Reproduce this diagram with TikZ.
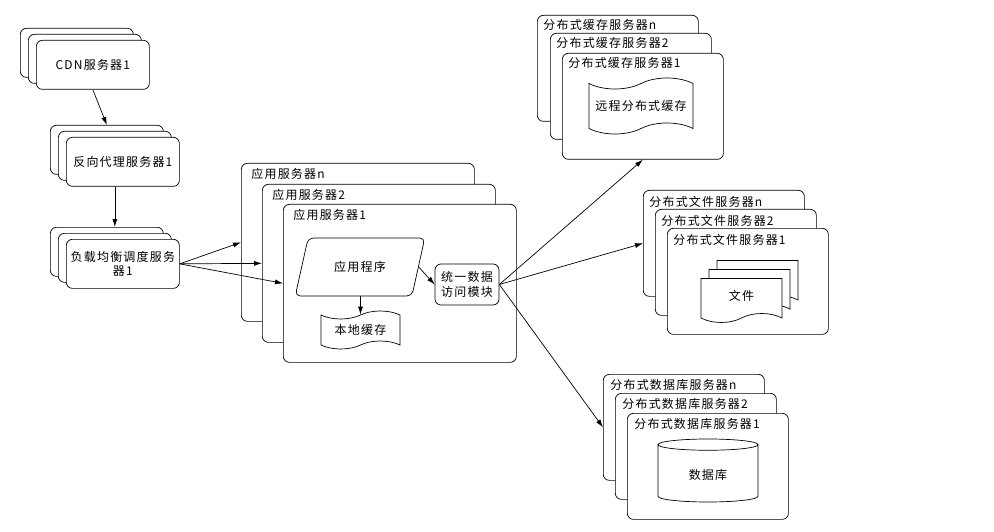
\documentclass[tikz,border=0pt]{standalone}
\usepackage{fontspec}
\setmainfont[LetterSpace=10]{Noto Sans CJK SC}
\usetikzlibrary{arrows.meta,shapes.geometric,shapes.symbols}

\begin{document}
\begin{tikzpicture}[
      x=1pt, y=-1pt, line width=0.7pt,
      font=\fontsize{12}{14.5}\selectfont,
      srv/.style={draw, rounded corners=6pt, fill=white, anchor=north west, inner sep=0pt},
      small/.style={srv, minimum width=113pt, minimum height=49pt, align=center},
      big/.style={srv, minimum width=161pt, minimum height=106pt},
      appbox/.style={srv, minimum width=233pt, minimum height=158pt},
      lbl/.style={anchor=west, inner sep=0pt},
      doc/.style={draw, fill=white, tape, tape bend top=none, tape bend height=9pt,
                  minimum width=81pt, minimum height=44pt},
      arr/.style={-{Latex[length=8pt, width=5pt]}},
    ]
    \useasboundingbox (0,0) rectangle (994,532);

    % front tier: CDN, reverse proxy, load balancer
    \node[small] (cdn3) at (20,28) {};
    \node[small] (cdn2) at (28,34) {};
    \node[small] (cdn1) at (36,40) {CDN服务器1};
    \node[small] (prx3) at (50,125) {};
    \node[small] (prx2) at (58,131) {};
    \node[small] (prx1) at (66,137) {反向代理服务器1};
    \node[small] (lb3) at (50,227) {};
    \node[small] (lb2) at (58,233) {};
    \node[small] (lb1) at (66,239) {负载均衡调度服务\\器1};

    % application servers
    \node[appbox] (appn) at (241,163) {};
    \node[lbl] (appnl) at ([shift={(10,11)}]appn.north west) {应用服务器n};
    \node[appbox] (app2) at (262,184) {};
    \node[lbl] (app2l) at ([shift={(10,11)}]app2.north west) {应用服务器2};
    \node[appbox] (app1) at (283,204) {};
    \node[lbl] (app1l) at ([shift={(10,11)}]app1.north west) {应用服务器1};
    \node[draw, trapezium, trapezium left angle=68, trapezium right angle=112,
          trapezium stretches=true, rounded corners=5pt,
          minimum width=130pt, minimum height=58pt] (prog) at (360,267) {应用程序};
    \node[draw, tape, tape bend height=8pt, minimum width=79pt, minimum height=38pt] (loc) at (360.5,330) {本地缓存};
    \node[draw, rounded corners=6pt, minimum width=64pt, minimum height=41pt,
          inner sep=0pt, align=center] (uda) at (467,284.5) {统一数据\\访问模块};

    % distributed cache
    \node[big] (cachen) at (537,15) {};
    \node[lbl] (cachenl) at ([shift={(6,10)}]cachen.north west) {分布式缓存服务器n};
    \node[big] (cache2) at (550,33) {};
    \node[lbl] (cache2l) at ([shift={(6,10)}]cache2.north west) {分布式缓存服务器2};
    \node[big] (cache1) at (562,53) {};
    \node[lbl] (cache1l) at ([shift={(6,10)}]cache1.north west) {分布式缓存服务器1};
    \node[draw, tape, tape bend height=11pt, minimum width=104pt, minimum height=56pt] (rcache) at (641,106) {远程分布式缓存};

    % distributed files
    \node[big] (filen) at (643,190) {};
    \node[lbl] (filenl) at ([shift={(6,12)}]filen.north west) {分布式文件服务器n};
    \node[big] (file2) at (655,209) {};
    \node[lbl] (file2l) at ([shift={(6,12)}]file2.north west) {分布式文件服务器2};
    \node[big] (file1) at (667,228) {};
    \node[lbl] (file1l) at ([shift={(6,12)}]file1.north west) {分布式文件服务器1};
    \node[doc] (doc3) at (757.5,278) {};
    \node[doc] (doc2) at (749.5,287) {};
    \node[doc] (doc1) at (741.5,296) {文件};

    % distributed database
    \node[big] (dbn) at (603,374) {};
    \node[lbl] (dbnl) at ([shift={(7,11)}]dbn.north west) {分布式数据库服务器n};
    \node[big] (db2) at (615,393) {};
    \node[lbl] (db2l) at ([shift={(7,11)}]db2.north west) {分布式数据库服务器2};
    \node[big] (db1) at (627,413) {};
    \node[lbl] (db1l) at ([shift={(7,11)}]db1.north west) {分布式数据库服务器1};
    \node[draw, cylinder, shape border rotate=90, aspect=0.25,
          minimum width=100pt, minimum height=63pt] (dbase) at (708,474.5) {数据库};

    % connectors
    \draw[arr] (cdn1.south) -- (prx3.north);
    \draw[arr] (lb2.north |- prx1.south) -- (lb2.north |- lb3.north);
    \draw[arr] (lb1.east) -- (appn.west);
    \draw[arr] (lb1.east) -- (app2.west);
    \draw[arr] (lb1.east) -- (app1.west);
    \draw[arr] (prog.south -| loc.north) -- (loc.north);
    \draw[arr] (prog.east) -- (uda.west);
    \draw[arr] (uda.east) -- (cache1.south);
    \draw[arr] (uda.east) -- (filen.west);
    \draw[arr] (uda.east) -- (dbn.west);
  \end{tikzpicture}
\end{document}
